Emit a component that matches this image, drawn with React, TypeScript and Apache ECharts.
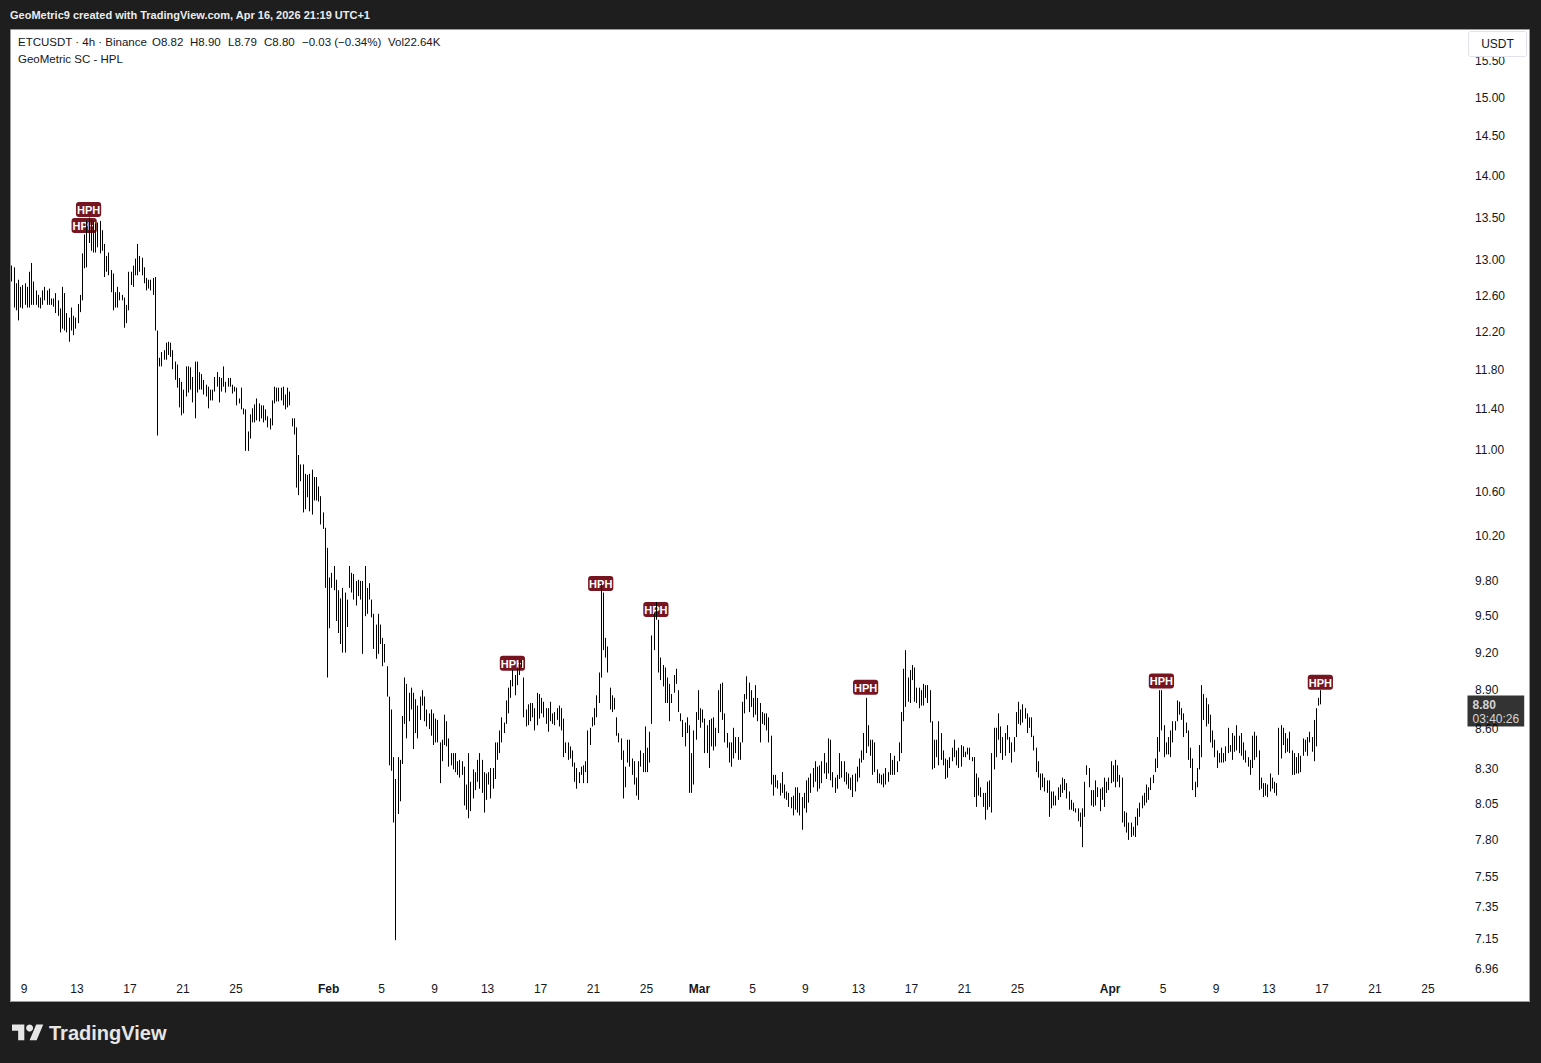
import React, { useEffect, useRef } from "react";
import * as echarts from "echarts";

// ---------- text / meta ----------
const headerText = "GeoMetric9 created with TradingView.com, Apr 16, 2026 21:19 UTC+1";
const symbolTitle = "ETCUSDT · 4h · Binance";
const indicatorName = "GeoMetric SC - HPL";
const quoteCurrency = "USDT";
const lastOpen = 8.82;
const lastHigh = 8.9;
const lastLow = 8.79;
const lastClose = 8.8;
const lastChange = -0.03;
const lastChangePct = -0.34;
const lastVolume = "22.64K";
const barCountdown = "03:40:26";

// time of first bar: Jan 8 01:00 (days after Jan 1 00:00), 4h bars
const firstBarDay = 7 + 1 / 24;
const barStepDays = 4 / 24;

// ---------- bars: [high, low] ----------
// Jan 8 – Jan 24
const bars1 = [
  [12.94,12.76],[12.92,12.47],[12.74,12.44],[12.78,12.33],[12.70,12.47],[12.72,12.46],[12.74,12.50],[12.70,12.47],[12.87,12.47],[12.97,12.50],
  [12.76,12.50],[12.66,12.50],[12.61,12.47],[12.58,12.46],[12.66,12.50],[12.70,12.55],[12.66,12.50],[12.68,12.50],[12.57,12.50],[12.57,12.48],
  [12.63,12.41],[12.55,12.38],[12.46,12.20],[12.70,12.24],[12.63,12.22],[12.41,12.20],[12.36,12.10],[12.47,12.22],[12.38,12.17],[12.36,12.24],
  [12.51,12.30],[12.61,12.42],[13.08,12.55],[13.30,12.91],[13.47,12.92],[13.50,13.20],[13.47,13.11],[13.45,13.09],[13.43,13.09],[13.44,13.15],
  [13.46,13.08],[13.35,13.11],[13.19,12.81],[13.05,12.87],[13.09,12.83],[12.89,12.64],[12.85,12.44],[12.64,12.47],[12.70,12.47],[12.64,12.55],
  [12.61,12.55],[12.58,12.25],[12.50,12.30],[12.87,12.44],[12.87,12.72],[12.94,12.70],[13.02,12.83],[13.19,12.83],[13.05,12.87],[13.03,12.83],
  [12.92,12.74],[12.80,12.66],[12.78,12.68],[12.78,12.66],[12.80,12.61],[12.81,12.22],[12.22,11.14],[11.93,11.84],[11.99,11.84],[12.01,11.91],
  [12.09,11.91],[12.10,11.96],[12.09,11.94],[12.01,11.81],[11.89,11.70],[11.86,11.62],[11.72,11.42],[11.68,11.34],[11.60,11.36],[11.84,11.53],
  [11.84,11.57],[11.83,11.60],[11.73,11.47],[11.89,11.31],[11.89,11.57],[11.78,11.60],[11.76,11.60],[11.70,11.55],[11.65,11.53],[11.63,11.41],
  [11.60,11.49],[11.60,11.49],[11.73,11.58],[11.78,11.63],[11.73,11.47],[11.72,11.58],[11.84,11.63],[11.68,11.57],[11.72,11.63],
];
// Jan 24 – Feb 9
const bars2 = [
  [11.72,11.63],[11.65,11.56],[11.63,11.58],[11.62,11.44],[11.51,11.46],[11.62,11.40],[11.41,11.35],[11.40,10.99],[11.18,10.99],[11.35,11.11],
  [11.41,11.27],[11.45,11.27],[11.51,11.29],[11.46,11.28],[11.44,11.31],[11.44,11.27],[11.40,11.29],[11.33,11.22],[11.31,11.20],[11.49,11.24],
  [11.63,11.46],[11.62,11.48],[11.62,11.48],[11.62,11.49],[11.63,11.44],[11.55,11.40],[11.62,11.42],[11.58,11.44],[11.31,11.23],[11.31,11.15],
  [11.22,10.64],[10.95,10.57],[10.86,10.70],[10.86,10.41],[10.77,10.44],[10.76,10.55],[10.77,10.42],[10.81,10.39],[10.74,10.52],[10.74,10.52],
  [10.65,10.51],[10.56,10.30],[10.41,10.26],[10.27,9.74],[10.09,9.00],[9.83,9.40],[9.87,9.74],[9.93,9.72],[9.81,9.46],[9.72,9.36],
  [9.65,9.27],[9.74,9.20],[9.70,9.20],[9.64,9.41],[9.93,9.74],[9.87,9.70],[9.86,9.64],[9.80,9.59],[9.81,9.67],[9.80,9.64],
  [9.80,9.19],[9.93,9.50],[9.74,9.52],[9.78,9.64],[9.64,9.49],[9.52,9.23],[9.43,9.15],[9.52,9.19],[9.43,9.27],[9.32,9.09],
  [9.27,9.12],[9.09,8.85],[8.85,8.33],[8.75,8.29],[8.39,7.92],[8.23,7.14],[8.39,7.98],[8.37,8.07],[8.70,8.34],[9.00,8.64],
  [8.95,8.53],[8.88,8.66],[8.92,8.75],[8.88,8.45],[8.83,8.57],[8.78,8.53],[8.85,8.67],[8.90,8.78],[8.85,8.66],[8.75,8.62],
  [8.72,8.60],[8.75,8.55],[8.72,8.48],[8.68,8.50],[8.67,8.50],[8.50,8.20],[8.52,8.36],[8.71,8.48],
];
// Feb 9 – Feb 25
const bars3 = [
  [8.66,8.47],[8.53,8.32],[8.42,8.33],[8.42,8.30],[8.42,8.28],[8.36,8.26],[8.37,8.24],[8.36,8.26],[8.32,8.04],[8.19,8.01],
  [8.42,7.95],[8.21,8.00],[8.30,8.09],[8.28,8.15],[8.37,8.21],[8.42,8.16],[8.37,8.13],[8.28,7.99],[8.27,8.08],[8.28,8.19],
  [8.31,8.09],[8.31,8.16],[8.50,8.23],[8.50,8.37],[8.59,8.42],[8.69,8.50],[8.65,8.57],[8.82,8.64],[8.92,8.72],[8.98,8.84],
  [9.06,8.93],[9.02,8.86],[9.08,8.94],[9.14,9.02],[9.14,9.08],[9.00,8.69],[8.75,8.62],[8.79,8.63],[8.80,8.66],[8.80,8.69],
  [8.76,8.59],[8.88,8.63],[8.87,8.68],[8.84,8.72],[8.81,8.69],[8.76,8.64],[8.76,8.58],[8.81,8.66],[8.72,8.64],[8.73,8.63],
  [8.76,8.67],[8.78,8.62],[8.76,8.59],[8.68,8.39],[8.50,8.42],[8.50,8.37],[8.47,8.38],[8.44,8.32],[8.35,8.21],[8.31,8.16],
  [8.28,8.20],[8.32,8.26],[8.33,8.20],[8.36,8.28],[8.59,8.20],[8.61,8.48],[8.69,8.62],[8.76,8.63],[8.86,8.69],[9.04,8.80],
  [9.77,9.00],[9.70,9.22],[9.32,9.16],[9.25,9.04],[8.92,8.75],[8.86,8.73],[8.84,8.75],[8.69,8.55],[8.57,8.50],[8.53,8.37],
  [8.44,8.09],[8.32,8.17],[8.52,8.35],[8.52,8.32],[8.38,8.26],[8.36,8.19],[8.24,8.11],[8.36,8.08],[8.44,8.32],[8.42,8.28],
  [8.62,8.28],[8.46,8.28],[8.58,8.35],[9.34,8.64],[9.53,9.22],[9.62,9.47],[9.47,9.04],
];
// Feb 26 – Mar 14
const bars4 = [
  [9.16,8.98],[9.10,8.93],[9.08,8.80],[9.00,8.80],[8.95,8.66],[8.87,8.80],[9.02,8.88],[9.07,8.95],[8.90,8.73],[8.72,8.66],
  [8.67,8.54],[8.65,8.47],[8.69,8.57],[8.63,8.13],[8.42,8.13],[8.59,8.19],[8.73,8.52],[8.90,8.67],[8.76,8.61],[8.75,8.65],
  [8.68,8.42],[8.63,8.42],[8.67,8.31],[8.68,8.47],[8.69,8.44],[8.61,8.47],[8.90,8.57],[8.95,8.73],[8.96,8.67],[8.72,8.50],
  [8.57,8.46],[8.50,8.35],[8.50,8.32],[8.61,8.38],[8.54,8.42],[8.54,8.37],[8.50,8.37],[8.81,8.50],[8.87,8.72],[9.01,8.83],
  [8.96,8.73],[8.90,8.77],[8.84,8.69],[8.94,8.71],[8.84,8.66],[8.80,8.50],[8.73,8.64],[8.72,8.63],[8.72,8.59],[8.69,8.50],
  [8.55,8.19],[8.26,8.11],[8.26,8.17],[8.22,8.16],[8.20,8.11],[8.28,8.13],[8.19,8.09],[8.14,8.08],[8.13,8.03],[8.10,8.02],
  [8.11,7.97],[8.17,8.01],[8.17,7.99],[8.13,7.97],[8.10,7.87],[8.13,8.02],[8.22,7.99],[8.24,8.06],[8.27,8.13],[8.31,8.17],
  [8.36,8.21],[8.32,8.14],[8.33,8.16],[8.36,8.20],[8.42,8.27],[8.35,8.23],[8.53,8.27],[8.52,8.22],[8.28,8.17],[8.24,8.13],
  [8.26,8.16],[8.42,8.23],[8.36,8.24],[8.36,8.21],[8.28,8.19],[8.27,8.16],[8.24,8.15],[8.26,8.10],[8.27,8.14],[8.32,8.21],
  [8.38,8.24],[8.44,8.35],[8.57,8.37],[8.84,8.42],[8.63,8.47],[8.52,8.40],[8.52,8.26],
];
// Mar 14 – Mar 30
const bars5 = [
  [8.50,8.28],[8.30,8.20],[8.27,8.20],[8.26,8.19],[8.27,8.17],[8.31,8.19],[8.28,8.21],[8.42,8.26],[8.37,8.26],[8.40,8.26],
  [8.36,8.28],[8.50,8.36],[8.73,8.42],[9.07,8.66],[9.22,8.77],[9.00,8.81],[9.06,8.80],[9.10,8.98],[9.08,8.81],[8.92,8.80],
  [8.92,8.76],[8.90,8.78],[8.95,8.78],[8.94,8.84],[8.94,8.80],[8.90,8.65],[8.66,8.30],[8.52,8.31],[8.52,8.39],[8.66,8.33],
  [8.57,8.37],[8.44,8.33],[8.38,8.23],[8.37,8.24],[8.39,8.31],[8.46,8.36],[8.52,8.39],[8.44,8.33],[8.46,8.31],[8.48,8.32],
  [8.47,8.39],[8.43,8.39],[8.46,8.41],[8.46,8.37],[8.39,8.36],[8.39,8.10],[8.27,8.03],[8.24,8.11],[8.17,8.10],[8.13,8.03],
  [8.13,7.94],[8.21,8.01],[8.22,8.03],[8.42,7.99],[8.61,8.30],[8.61,8.39],[8.72,8.52],[8.62,8.42],[8.54,8.37],[8.57,8.40],
  [8.63,8.52],[8.54,8.42],[8.50,8.35],[8.54,8.43],[8.73,8.54],[8.81,8.64],[8.75,8.63],[8.79,8.65],[8.76,8.68],[8.72,8.57],
  [8.69,8.61],[8.69,8.54],[8.55,8.44],[8.46,8.28],[8.36,8.24],[8.27,8.15],[8.27,8.17],[8.24,8.14],[8.22,8.13],[8.22,7.96],
  [8.14,8.02],[8.14,8.04],[8.11,8.04],[8.17,8.08],[8.19,8.10],[8.24,8.13],[8.23,8.15],[8.20,8.09],[8.14,8.01],[8.08,8.01],
  [8.06,8.00],[8.02,7.99],[8.02,7.93],[7.99,7.89],[8.02,7.75],[8.21,7.96],[8.33,8.26],
];
// Mar 30 – Apr 16
const bars6 = [
  [8.31,8.17],[8.15,8.04],[8.15,8.03],[8.22,8.04],[8.17,8.10],[8.16,8.00],[8.17,8.08],[8.24,8.03],[8.21,8.13],[8.24,8.15],
  [8.36,8.20],[8.33,8.21],[8.37,8.17],[8.33,8.21],[8.26,8.17],[8.24,7.92],[8.00,7.89],[7.99,7.85],[7.92,7.80],[7.92,7.82],
  [7.89,7.83],[7.96,7.82],[8.02,7.90],[8.06,7.96],[8.11,8.02],[8.13,8.04],[8.19,8.06],[8.17,8.08],[8.24,8.15],[8.26,8.20],
  [8.38,8.28],[8.54,8.31],[8.90,8.43],[8.90,8.59],[8.63,8.39],[8.50,8.41],[8.54,8.41],[8.59,8.39],[8.66,8.50],[8.66,8.59],
  [8.82,8.66],[8.81,8.71],[8.76,8.67],[8.72,8.54],[8.65,8.57],[8.59,8.37],[8.46,8.31],[8.38,8.15],[8.21,8.10],[8.31,8.17],
  [8.48,8.30],[8.94,8.39],[8.87,8.67],[8.84,8.62],[8.79,8.64],[8.71,8.50],[8.59,8.46],[8.52,8.39],[8.44,8.31],[8.42,8.35],
  [8.46,8.35],[8.42,8.35],[8.47,8.36],[8.61,8.42],[8.48,8.43],[8.57,8.37],[8.55,8.43],[8.63,8.44],[8.55,8.42],[8.57,8.40],
  [8.50,8.37],[8.44,8.35],[8.39,8.32],[8.37,8.26],[8.55,8.31],[8.58,8.37],[8.55,8.39],[8.44,8.15],[8.24,8.16],[8.20,8.10],
  [8.20,8.11],[8.19,8.10],[8.27,8.14],[8.24,8.16],[8.21,8.13],[8.20,8.11],[8.61,8.26],[8.63,8.38],[8.61,8.48],[8.57,8.42],
  [8.53,8.43],[8.58,8.42],[8.44,8.26],[8.42,8.26],[8.39,8.27],[8.42,8.27],[8.40,8.28],[8.53,8.40],[8.52,8.43],[8.54,8.40],
  [8.58,8.50],[8.54,8.43],[8.67,8.36],[8.76,8.47],[8.84,8.78],[lastHigh,lastLow],
];

// HPH markers: [bar index, price]
const hphMarks = [
  [33, 13.31], [35, 13.5], [227, 9.05], [267, 9.71], [292, 9.49], [387, 8.86], [521, 8.91], [593, 8.9],
];

// axis ticks
const priceTicks = [15.5, 15, 14.5, 14, 13.5, 13, 12.6, 12.2, 11.8, 11.4, 11, 10.6, 10.2, 9.8, 9.5, 9.2, 8.9, 8.6, 8.3, 8.05, 7.8, 7.55, 7.35, 7.15, 6.96];
const dateTickDays = [8, 12, 16, 20, 24, 31, 35, 39, 43, 47, 51, 55, 59, 63, 67, 71, 75, 79, 83, 90, 94, 98, 102, 106, 110, 114];
const dateTickLabels = ["9", "13", "17", "21", "25", "Feb", "5", "9", "13", "17", "21", "25", "Mar", "5", "9", "13", "17", "21", "25", "Apr", "5", "9", "13", "17", "21", "25"];
const monthLabels = ["Feb", "Mar", "Apr"];

// ---------- layout ----------
const FONT = '"Liberation Sans", Arial, sans-serif';
const TEXT = "#131722";
const DARK = "#1e1e1e";
const HPH_COLOR = "#761520";
const gridLeft = 10;
const gridRightPx = 1465;
const gridTop = 30;
const gridBottomPx = 978;
const pxPerDay = 13.245;
const anchorDay = 8;
const anchorX = 24;
const pxPerLn = 1134.5;
const anchorPrice = 15;
const anchorY = 98;

const xMin = anchorDay - (anchorX - gridLeft) / pxPerDay;
const xMax = anchorDay + (gridRightPx - anchorX) / pxPerDay;
const yMaxLn = Math.log(anchorPrice) + (anchorY - gridTop) / pxPerLn;
const yMinLn = Math.log(anchorPrice) - (gridBottomPx - anchorY) / pxPerLn;

echarts.graphic.registerShape(
  "tvLogo",
  echarts.graphic.extendPath("M14 22H7V11H0V4h14v18zM28 22h-8l7.5-18h8L28 22z", {})
);

export default function App() {
  const ref = useRef<HTMLDivElement>(null);

  useEffect(() => {
    if (!ref.current) return;
    const chart = echarts.init(ref.current, null, { renderer: "svg" });

    const allBars = [...bars1, ...bars2, ...bars3, ...bars4, ...bars5, ...bars6];
    const barData = allBars.map(([h, l], i) => [firstBarDay + i * barStepDays, Math.log(h), Math.log(l)]);
    const hphData = hphMarks.map(([i, p]) => [firstBarDay + i * barStepDays, Math.log(p)]);

    const sign = lastChange < 0 ? "\u2212" : "+";
    const legendPieces: [number, string][] = [
      [18, symbolTitle],
      [152, `O${lastOpen.toFixed(2)}`],
      [190, `H${lastHigh.toFixed(2)}`],
      [228, `L${lastLow.toFixed(2)}`],
      [264, `C${lastClose.toFixed(2)}`],
      [302, `${sign}${Math.abs(lastChange).toFixed(2)} (${sign}${Math.abs(lastChangePct).toFixed(2)}%)`],
      [388, `Vol${lastVolume}`],
    ];

    const option: any = {
      animation: false,
      backgroundColor: "#ffffff",
      grid: { left: gridLeft, top: gridTop, width: gridRightPx - gridLeft, height: gridBottomPx - gridTop },
      xAxis: {
        type: "value",
        min: xMin,
        max: xMax,
        axisLine: { show: false },
        axisTick: { show: false },
        splitLine: { show: false },
        axisLabel: {
          customValues: dateTickDays,
          margin: 5,
          color: TEXT,
          fontSize: 12,
          fontFamily: FONT,
          formatter: (v: number) => {
            const k = dateTickDays.findIndex((d) => Math.abs(d - v) < 1e-6);
            const s = k >= 0 ? dateTickLabels[k] : "";
            return monthLabels.includes(s) ? `{m|${s}}` : s;
          },
          rich: { m: { fontWeight: "bold", fontSize: 12, color: TEXT, fontFamily: FONT } },
        },
      },
      yAxis: {
        type: "value",
        position: "right",
        min: yMinLn,
        max: yMaxLn,
        axisLine: { show: false },
        axisTick: { show: false },
        splitLine: { show: false },
        axisLabel: {
          customValues: priceTicks.map((p) => Math.log(p)),
          margin: 10,
          align: "left",
          color: TEXT,
          fontSize: 12,
          fontFamily: FONT,
          formatter: (v: number) => Math.exp(v).toFixed(2),
        },
      },
      series: [
        {
          type: "scatter",
          z: 2,
          silent: true,
          data: hphData,
          symbolSize: 1,
          itemStyle: { color: "rgba(0,0,0,0)" },
          label: {
            show: true,
            position: "top",
            distance: 0,
            formatter: "HPH",
            backgroundColor: HPH_COLOR,
            borderRadius: 3,
            color: "#ffffff",
            opacity: 1,
            fontWeight: "bold",
            fontSize: 11,
            lineHeight: 12,
            fontFamily: FONT,
            padding: [2, 1, 1, 1],
          },
        },
        {
          type: "custom",
          z: 3,
          silent: true,
          data: barData,
          encode: { x: 0, y: [1, 2] },
          renderItem: (params: any, api: any) => {
            const t = api.value(0);
            const p1 = api.coord([t, api.value(1)]);
            const p2 = api.coord([t, api.value(2)]);
            const x = Math.round(p1[0]) + 0.5;
            return {
              type: "line",
              shape: { x1: x, y1: p1[1], x2: x, y2: p2[1] },
              style: { stroke: "#000000", lineWidth: 1 },
            };
          },
        },
        {
          type: "scatter",
          z: 6,
          silent: true,
          clip: false,
          data: [[xMax, Math.log(lastClose)]],
          symbolSize: 1,
          itemStyle: { color: "rgba(0,0,0,0)" },
          label: {
            show: true,
            position: "right",
            distance: 2,
            offset: [0, 8],
            backgroundColor: "#000000",
            padding: [2, 5, 1, 5],
            formatter: () => `{a|${lastClose.toFixed(2)}}\n{b|${barCountdown}}`,
            rich: {
              a: { color: "#ffffff", fontWeight: "bold", fontSize: 12, lineHeight: 14, fontFamily: FONT },
              b: { color: "#ffffff", fontSize: 12, lineHeight: 14, fontFamily: FONT },
            },
          },
        },
      ],
      graphic: [
        { type: "rect", z: 100, shape: { x: 0, y: 0, width: 1541, height: 30 }, style: { fill: DARK } },
        { type: "rect", z: 100, shape: { x: 0, y: 1002, width: 1541, height: 61 }, style: { fill: DARK } },
        { type: "rect", z: 100, shape: { x: 0, y: 0, width: 10, height: 1063 }, style: { fill: DARK } },
        { type: "rect", z: 100, shape: { x: 1530, y: 0, width: 11, height: 1063 }, style: { fill: DARK } },
        { type: "rect", z: 101, shape: { x: 10.5, y: 29.5, width: 1519, height: 972 }, style: { fill: "none", stroke: "#9a9a9a", lineWidth: 1 } },
        {
          type: "text", z: 102, x: 10, y: 15,
          style: { text: headerText, fill: "#ececec", fontSize: 11, fontWeight: "bold", fontFamily: FONT, verticalAlign: "middle", align: "left" },
        },
        ...legendPieces.map(([x, s]) => ({
          type: "text", z: 102, x, y: 42,
          style: { text: s, fill: TEXT, fontSize: 11.5, fontFamily: FONT, verticalAlign: "middle", align: "left" },
        })),
        {
          type: "text", z: 102, x: 18, y: 59,
          style: { text: indicatorName, fill: TEXT, fontSize: 11.5, fontFamily: FONT, verticalAlign: "middle", align: "left" },
        },
        {
          type: "rect", z: 102, shape: { x: 1468.5, y: 31.5, width: 58, height: 25, r: 2 },
          style: { fill: "#ffffff", stroke: "#e0e3eb", lineWidth: 1 },
        },
        {
          type: "text", z: 103, x: 1497.5, y: 44,
          style: { text: quoteCurrency, fill: TEXT, fontSize: 12, fontFamily: FONT, verticalAlign: "middle", align: "center" },
        },
        { type: "tvLogo", z: 102, x: 12, y: 1021, scaleX: 0.88, scaleY: 0.88, style: { fill: "#e6e6e6" } },
        { type: "circle", z: 102, shape: { cx: 12 + 20 * 0.88, cy: 1021 + 8 * 0.88, r: 3.5 }, style: { fill: "#e6e6e6" } },
        {
          type: "text", z: 102, x: 49, y: 1033,
          style: { text: "TradingView", fill: "#e6e6e6", fontSize: 20, fontWeight: "bold", fontFamily: FONT, verticalAlign: "middle", align: "left" },
        },
      ],
    };

    chart.setOption(option);
    return () => chart.dispose();
  }, []);

  return <div ref={ref} style={{ position: "fixed", left: 0, top: 0, width: 1541, height: 1063 }} />;
}
